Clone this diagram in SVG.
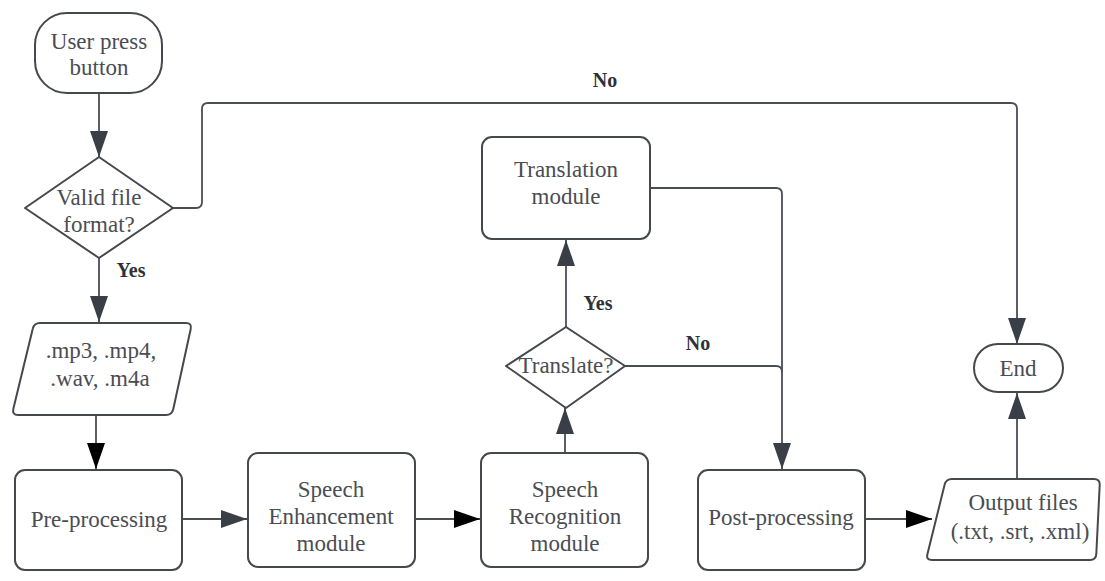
<svg xmlns="http://www.w3.org/2000/svg" width="1105" height="581" viewBox="0 0 1105 581">
  <defs>
    <marker id="arrow" markerUnits="userSpaceOnUse" markerWidth="26" markerHeight="18" refX="26" refY="9" orient="auto">
      <path d="M0,0 L26,9 L0,18 Z" fill="#3a3f47"/>
    </marker>
    <marker id="arrowDark" markerUnits="userSpaceOnUse" markerWidth="26" markerHeight="18" refX="26" refY="9" orient="auto">
      <path d="M0,0 L26,9 L0,18 Z" fill="#000"/>
    </marker>
    <style>
      .node { fill: #fff; stroke: #45484d; stroke-width: 2; stroke-linejoin: round; }
      .lbl { font-family: 'Liberation Serif', 'DejaVu Serif', serif; font-size: 23px; fill: #4a4d52; text-anchor: middle; }
      .edge { fill: none; stroke: #4a4d54; stroke-width: 1.8; }
      .elbl { font-family: 'Liberation Serif', 'DejaVu Serif', serif; font-size: 20px; font-weight: bold; fill: #2e3136; text-anchor: middle; }
    </style>
  </defs>
  <rect width="1105" height="581" fill="#fff"/>

  <!-- connectors -->
  <g id="connectors">
    <path class="edge" d="M99,93 V157" marker-end="url(#arrow)"/>
    <path class="edge" d="M173,208 H196 Q202,208 202,202 V109 Q202,103 208,103 H1011 Q1017,103 1017,109 V344" marker-end="url(#arrow)"/>
    <path class="edge" d="M99,258 V322" marker-end="url(#arrow)"/>
    <path class="edge" d="M96,415 V469" marker-end="url(#arrowDark)"/>
    <path class="edge" d="M182,519 H247" marker-end="url(#arrow)"/>
    <path class="edge" d="M415,519 H480" marker-end="url(#arrowDark)"/>
    <path class="edge" d="M565,453 V408" marker-end="url(#arrow)"/>
    <path class="edge" d="M566,327 V240" marker-end="url(#arrow)"/>
    <path class="edge" d="M650,188 H776 Q782,188 782,194 V469" marker-end="url(#arrow)"/>
    <path class="edge" d="M625,366 H776 Q782,366 782,372"/>
    <path class="edge" d="M865,519 H932" marker-end="url(#arrowDark)"/>
    <path class="edge" d="M1017,479 V393" marker-end="url(#arrow)"/>
    <text class="elbl" x="605" y="87">No</text>
    <text class="elbl" x="131" y="277">Yes</text>
    <text class="elbl" x="598" y="310">Yes</text>
    <text class="elbl" x="698" y="350">No</text>
  </g>

  <g id="start">
    <rect class="node" x="35" y="13" width="127" height="80" rx="32"/>
    <text class="lbl" x="99" y="49">User press</text>
    <text class="lbl" x="99" y="75">button</text>
  </g>

  <g id="valid-format">
    <path class="node" d="M99,157 L173,208 L99,258 L25,208 Z"/>
    <text class="lbl" x="99" y="205">Valid file</text>
    <text class="lbl" x="99" y="232">format?</text>
  </g>

  <g id="input-files">
    <path class="node" d="M40,323 H186 Q192,323 190.7,329 L173.3,409 Q172,415 166,415 H18 Q12,415 13.3,409 L32.7,329 Q34,323 40,323 Z"/>
    <text class="lbl" x="101" y="358">.mp3, .mp4,</text>
    <text class="lbl" x="100" y="386">.wav, .m4a</text>
  </g>

  <g id="pre-processing">
    <rect class="node" x="15" y="470" width="167" height="100" rx="10"/>
    <text class="lbl" x="99" y="527">Pre-processing</text>
  </g>

  <g id="speech-enhancement">
    <rect class="node" x="248" y="453" width="167" height="114" rx="10"/>
    <text class="lbl" x="331" y="497">Speech</text>
    <text class="lbl" x="331" y="524">Enhancement</text>
    <text class="lbl" x="331" y="551">module</text>
  </g>

  <g id="speech-recognition">
    <rect class="node" x="481" y="453" width="167" height="114" rx="10"/>
    <text class="lbl" x="565" y="497">Speech</text>
    <text class="lbl" x="565" y="524">Recognition</text>
    <text class="lbl" x="565" y="551">module</text>
  </g>

  <g id="translate-decision">
    <path class="node" d="M566,327 L625,366 L566,408 L506,366 Z"/>
    <text class="lbl" x="566" y="373">Translate?</text>
  </g>

  <g id="translation">
    <rect class="node" x="482" y="137" width="168" height="102" rx="10"/>
    <text class="lbl" x="566" y="177">Translation</text>
    <text class="lbl" x="566" y="204">module</text>
  </g>

  <g id="post-processing">
    <rect class="node" x="698" y="470" width="167" height="100" rx="10"/>
    <text class="lbl" x="781" y="525">Post-processing</text>
  </g>

  <g id="output-files">
    <path class="node" d="M952,479 H1094 Q1100,479 1099.7,485 L1096.3,554 Q1096,560 1090,560 H932 Q926,560 927.4,554.2 L944.6,484.8 Q946,479 952,479 Z"/>
    <text class="lbl" x="1023" y="510">Output files</text>
    <text class="lbl" x="1020" y="539">(.txt, .srt, .xml)</text>
  </g>

  <g id="end">
    <rect class="node" x="974" y="344" width="89" height="48" rx="24"/>
    <text class="lbl" x="1018" y="376">End</text>
  </g>
</svg>
